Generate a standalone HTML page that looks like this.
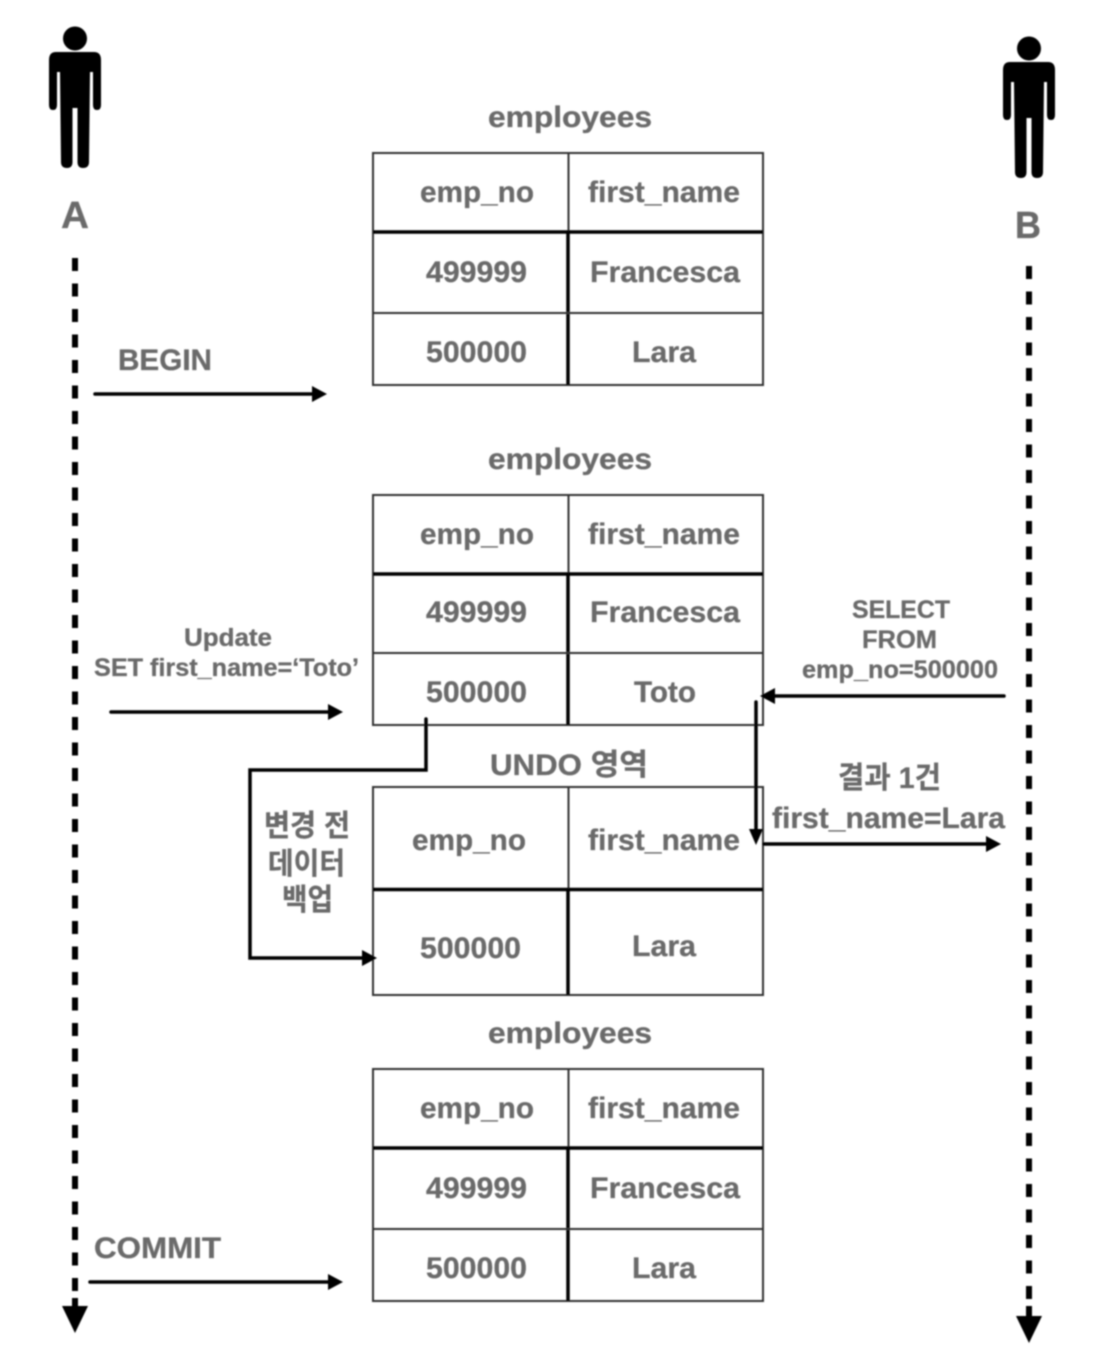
<!DOCTYPE html>
<html><head><meta charset="utf-8">
<style>
html,body{margin:0;padding:0;background:#fff;width:1094px;height:1370px;overflow:hidden}
svg{display:block}
text{font-family:"Liberation Sans","Noto Sans CJK KR",sans-serif;font-weight:bold;fill:#6a6a6a;stroke:#6a6a6a;stroke-width:.3}
.t{font-size:30px}
.s{font-size:25px}
.g line,.g rect{stroke:#333;stroke-width:2;fill:none}
.g line.k{stroke:#000;stroke-width:3.5}
.c{stroke:#000;stroke-width:3.5;fill:none;stroke-linecap:round}
.h{fill:#000}
</style></head><body>
<svg width="1094" height="1370" viewBox="0 0 1094 1370" xmlns="http://www.w3.org/2000/svg">
<defs>
<filter id="b" x="-5%" y="-5%" width="110%" height="110%"><feGaussianBlur stdDeviation="0.8"/></filter>
</defs>
<rect width="1094" height="1370" fill="#fff"/>
<g filter="url(#b)">
<!-- Person A -->
<g>
<circle cx="75" cy="38.500" r="12" fill="#000"/>
<path d="M56 52H94Q101 52 101 60V105Q101 110 97 110Q93 110 93 105V72H90L89 162Q89 168 83 168Q77.500 168 77.500 162V108H72.500V162Q72.500 168 67 168Q61 168 61 162L60 72H57V105Q57 110 53 110Q49 110 49 105V60Q49 52 56 52Z" fill="#000"/>
</g>
<!-- Person B -->
<g transform="translate(954,10)">
<circle cx="75" cy="38.500" r="12" fill="#000"/>
<path d="M56 52H94Q101 52 101 60V105Q101 110 97 110Q93 110 93 105V72H90L89 162Q89 168 83 168Q77.500 168 77.500 162V108H72.500V162Q72.500 168 67 168Q61 168 61 162L60 72H57V105Q57 110 53 110Q49 110 49 105V60Q49 52 56 52Z" fill="#000"/>
</g>
<text x="61" y="228" font-size="38" textLength="28" lengthAdjust="spacingAndGlyphs">A</text>
<text x="1015" y="238" font-size="38" textLength="26" lengthAdjust="spacingAndGlyphs">B</text>

<!-- Lifelines -->
<line x1="75" y1="258" x2="75" y2="1296" stroke="#000" stroke-width="6" stroke-dasharray="13 12.500"/>
<path d="M75 1298V1310" stroke="#000" stroke-width="6"/>
<path d="M62 1306H88L75 1333Z" class="h"/>
<line x1="1029" y1="266" x2="1029" y2="1306" stroke="#000" stroke-width="6" stroke-dasharray="13 12.500"/>
<path d="M1029 1306V1320" stroke="#000" stroke-width="6"/>
<path d="M1016 1316H1042L1029 1343Z" class="h"/>

<!-- Table 1 -->
<g class="g">
<rect x="373" y="153" width="390" height="232"/>
<line x1="568.500" y1="153" x2="568.500" y2="232"/>
<line class="k" x1="568" y1="232" x2="568" y2="385"/>
<line class="k" x1="373" y1="232" x2="763" y2="232"/>
<line x1="373" y1="313" x2="763" y2="313"/>
</g>
<text class="t" x="488" y="127" textLength="164" lengthAdjust="spacingAndGlyphs">employees</text>
<text class="t" x="420" y="202" textLength="114" lengthAdjust="spacingAndGlyphs">emp_no</text>
<text class="t" x="588" y="202" textLength="152" lengthAdjust="spacingAndGlyphs">first_name</text>
<text class="t" x="426" y="282" textLength="101" lengthAdjust="spacingAndGlyphs">499999</text>
<text class="t" x="590" y="282" textLength="150" lengthAdjust="spacingAndGlyphs">Francesca</text>
<text class="t" x="426" y="362" textLength="101" lengthAdjust="spacingAndGlyphs">500000</text>
<text class="t" x="632" y="362" textLength="64" lengthAdjust="spacingAndGlyphs">Lara</text>

<!-- Table 2 -->
<g class="g">
<rect x="373" y="495" width="390" height="230"/>
<line x1="568.500" y1="495" x2="568.500" y2="574"/>
<line class="k" x1="568" y1="574" x2="568" y2="725"/>
<line class="k" x1="373" y1="574" x2="763" y2="574"/>
<line x1="373" y1="653" x2="763" y2="653"/>
</g>
<text class="t" x="488" y="469" textLength="164" lengthAdjust="spacingAndGlyphs">employees</text>
<text class="t" x="420" y="544" textLength="114" lengthAdjust="spacingAndGlyphs">emp_no</text>
<text class="t" x="588" y="544" textLength="152" lengthAdjust="spacingAndGlyphs">first_name</text>
<text class="t" x="426" y="622" textLength="101" lengthAdjust="spacingAndGlyphs">499999</text>
<text class="t" x="590" y="622" textLength="150" lengthAdjust="spacingAndGlyphs">Francesca</text>
<text class="t" x="426" y="702" textLength="101" lengthAdjust="spacingAndGlyphs">500000</text>
<text class="t" x="634" y="702" textLength="62" lengthAdjust="spacingAndGlyphs">Toto</text>

<!-- Undo table -->
<g class="g">
<rect x="373" y="787" width="390" height="208"/>
<line x1="568.500" y1="787" x2="568.500" y2="889"/>
<line class="k" x1="568" y1="889.500" x2="568" y2="995"/>
<line class="k" x1="373" y1="889.500" x2="763" y2="889.500"/>
</g>
<text class="t" x="490" y="775" textLength="158" lengthAdjust="spacingAndGlyphs">UNDO 영역</text>
<text class="t" x="412" y="850" textLength="114" lengthAdjust="spacingAndGlyphs">emp_no</text>
<text class="t" x="588" y="850" textLength="152" lengthAdjust="spacingAndGlyphs">first_name</text>
<text class="t" x="420" y="958" textLength="101" lengthAdjust="spacingAndGlyphs">500000</text>
<text class="t" x="632" y="956" textLength="64" lengthAdjust="spacingAndGlyphs">Lara</text>

<!-- Table 3 -->
<g class="g">
<rect x="373" y="1069" width="390" height="232"/>
<line x1="568.500" y1="1069" x2="568.500" y2="1148"/>
<line class="k" x1="568" y1="1148" x2="568" y2="1301"/>
<line class="k" x1="373" y1="1148" x2="763" y2="1148"/>
<line x1="373" y1="1229" x2="763" y2="1229"/>
</g>
<text class="t" x="488" y="1043" textLength="164" lengthAdjust="spacingAndGlyphs">employees</text>
<text class="t" x="420" y="1118" textLength="114" lengthAdjust="spacingAndGlyphs">emp_no</text>
<text class="t" x="588" y="1118" textLength="152" lengthAdjust="spacingAndGlyphs">first_name</text>
<text class="t" x="426" y="1198" textLength="101" lengthAdjust="spacingAndGlyphs">499999</text>
<text class="t" x="590" y="1198" textLength="150" lengthAdjust="spacingAndGlyphs">Francesca</text>
<text class="t" x="426" y="1278" textLength="101" lengthAdjust="spacingAndGlyphs">500000</text>
<text class="t" x="632" y="1278" textLength="64" lengthAdjust="spacingAndGlyphs">Lara</text>

<!-- BEGIN -->
<text class="t" x="118" y="370" textLength="94" lengthAdjust="spacingAndGlyphs">BEGIN</text>
<line class="c" x1="95" y1="394" x2="316" y2="394"/>
<path d="M312 386L327 394L312 402Z" class="h"/>

<!-- Update -->
<text class="s" x="184" y="646" textLength="88" lengthAdjust="spacingAndGlyphs">Update</text>
<text class="s" x="94" y="676" textLength="265" lengthAdjust="spacingAndGlyphs">SET first_name=‘Toto’</text>
<line class="c" x1="111" y1="712" x2="332" y2="712"/>
<path d="M328 704L343 712L328 720Z" class="h"/>

<!-- SELECT -->
<text class="s" x="852" y="618" textLength="98" lengthAdjust="spacingAndGlyphs">SELECT</text>
<text class="s" x="862" y="648" textLength="75" lengthAdjust="spacingAndGlyphs">FROM</text>
<text class="s" x="802" y="678" textLength="196" lengthAdjust="spacingAndGlyphs">emp_no=500000</text>
<line class="c" x1="1004" y1="696" x2="772" y2="696"/>
<path d="M775 688L760 696L775 704Z" class="h"/>

<!-- Down to undo -->
<line class="c" x1="756" y1="702" x2="756" y2="832"/>
<path d="M749 829H763L756 845Z" class="h"/>

<!-- Result -->
<text class="t" x="838" y="788" textLength="103" lengthAdjust="spacingAndGlyphs">결과 1건</text>
<text class="t" x="772" y="828" textLength="233" lengthAdjust="spacingAndGlyphs">first_name=Lara</text>
<line class="c" x1="764" y1="844" x2="990" y2="844"/>
<path d="M986 836L1001 844L986 852Z" class="h"/>

<!-- Backup connector -->
<path class="c" d="M426 719V770H250V958H366"/>
<path d="M362 950L377 958L362 966Z" class="h"/>
<text class="t" x="264" y="836" textLength="86" lengthAdjust="spacingAndGlyphs">변경 전</text>
<text class="t" x="268" y="874" textLength="77" lengthAdjust="spacingAndGlyphs">데이터</text>
<text class="t" x="282" y="910" textLength="51" lengthAdjust="spacingAndGlyphs">백업</text>

<!-- COMMIT -->
<text class="t" x="94" y="1258" textLength="127" lengthAdjust="spacingAndGlyphs">COMMIT</text>
<line class="c" x1="90" y1="1282" x2="332" y2="1282"/>
<path d="M328 1274L343 1282L328 1290Z" class="h"/>
</g>
</svg>
</body></html>
